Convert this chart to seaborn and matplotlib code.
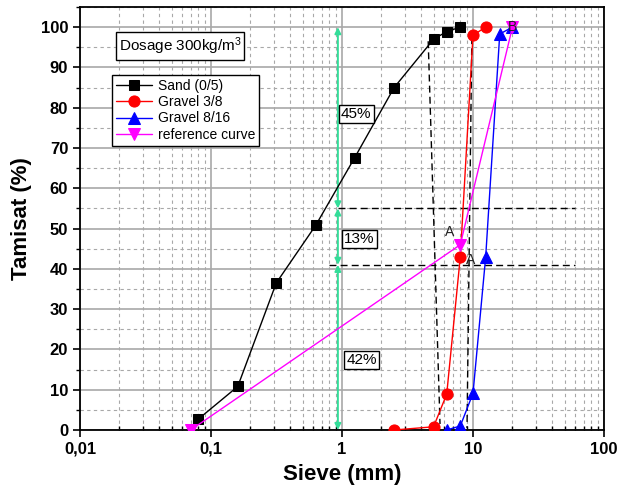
import numpy as np
import pandas as pd
import matplotlib
matplotlib.use("Agg")
import matplotlib.pyplot as plt
from matplotlib.ticker import LogLocator, FixedLocator, MultipleLocator, FuncFormatter
import seaborn as sns

# ---- data ----
sand_x = [0.08, 0.16, 0.315, 0.63, 1.25, 2.5, 5, 6.3, 8]
sand_y = [2.7, 10.8, 36.5, 50.8, 67.6, 85.0, 97.0, 98.9, 100]
gravel38_x = [2.5, 5, 6.3, 8, 10, 12.5]
gravel38_y = [0.0, 0.8, 8.9, 43.0, 98.0, 100]
gravel816_x = [6.3, 8, 10, 12.5, 16, 20]
gravel816_y = [0.0, 1.0, 9.1, 43.0, 98.3, 100]
ref_x = [0.07, 8, 20]
ref_y = [0.0, 46.0, 100]
series_names = ["Sand (0/5)", "Gravel 3/8", "Gravel 8/16", "reference curve"]
x_tick_values = [0.01, 0.1, 1, 10, 100]
x_tick_labels = ["0,01", "0,1", "1", "10", "100"]
y_tick_values = [0, 10, 20, 30, 40, 50, 60, 70, 80, 90, 100]
split_x = 0.93
split_levels = [0, 41, 55, 100]
pct_labels = ["42%", "13%", "45%"]
pct_pos_x = [1.41, 1.35, 1.28]
pct_pos_y = [17.4, 47.4, 78.4]

sns.set_theme(style="ticks")
plt.rcParams["font.family"] = ["Liberation Sans", "DejaVu Sans"]
plt.rcParams["mathtext.default"] = "regular"

fig = plt.figure(figsize=(6.2, 4.93), dpi=100)
ax = fig.add_axes([80/620, 1-430/493, 524/620, 423/493])

green = "#33DD99"

# grid
ax.set_xscale("log")
ax.set_xlim(0.01, 100)
ax.set_ylim(0, 105)
ax.xaxis.set_major_locator(FixedLocator(x_tick_values))
ax.xaxis.set_minor_locator(LogLocator(base=10, subs=np.arange(2, 10)))
ax.set_xticks(x_tick_values)
ax.set_xticklabels(x_tick_labels)
ax.xaxis.set_minor_formatter(FuncFormatter(lambda v, p: ""))
ax.set_yticks(y_tick_values)
ax.yaxis.set_minor_locator(MultipleLocator(5))
ax.grid(which="major", color="#A8A8A8", lw=1.2, ls="-", zorder=0)
ax.grid(which="minor", color="#A8A8A8", lw=0.8, ls=(0, (3, 3)), zorder=0)
ax.set_axisbelow(True)

# dashed construction lines
dash = dict(color="black", lw=1.0, ls=(0, (5, 3)), zorder=2)
ax.plot([split_x, 60], [55, 55], **dash)
ax.plot([0.8, 60], [41, 41], **dash)
ax.plot([4.55, 5.6], [96.5, 1.5], **dash)
ax.plot([9.8, 9.0], [97.5, 0.5], **dash)

# green double arrows
for lo, hi in zip(split_levels[:-1], split_levels[1:]):
    ax.annotate("", xy=(split_x, lo), xytext=(split_x, hi),
                arrowprops=dict(arrowstyle="<|-|>", color=green, lw=1.4,
                                mutation_scale=9, shrinkA=0, shrinkB=0), zorder=3)

# series
sns.lineplot(x=sand_x, y=sand_y, ax=ax, color="black", marker="s", markersize=7,
             markeredgecolor="black", lw=1.0, sort=False, label=series_names[0], zorder=5)
sns.lineplot(x=gravel38_x, y=gravel38_y, ax=ax, color="#FF0000", marker="o", markersize=8,
             markeredgecolor="#FF0000", lw=1.0, sort=False, label=series_names[1], zorder=5)
sns.lineplot(x=gravel816_x, y=gravel816_y, ax=ax, color="#0000FF", marker="^", markersize=8,
             markeredgecolor="#0000FF", lw=1.0, sort=False, label=series_names[2], zorder=5)
sns.lineplot(x=ref_x, y=ref_y, ax=ax, color="#FF00FF", marker="v", markersize=8,
             markeredgecolor="#FF00FF", lw=1.0, sort=False, label=series_names[3], zorder=6)

# text boxes
for t, px, py in zip(pct_labels, pct_pos_x, pct_pos_y):
    ax.text(px, py, t, ha="center", va="center", fontsize=11, zorder=7, color="black",
            bbox=dict(boxstyle="square,pad=0.15", fc="white", ec="black", lw=1.0))
ax.text(0.058, 95.3, "Dosage 300kg/m$^3$", ha="center", va="center", fontsize=11, zorder=7,
        color="black",
        bbox=dict(boxstyle="square,pad=0.2", fc="white", ec="black", lw=1.0))
ax.text(6.6, 49.2, "A", ha="center", va="center", fontsize=10, color="#222222", zorder=7)
ax.text(9.6, 42.2, "A", ha="center", va="center", fontsize=10, color="#222222", zorder=7)
ax.text(20, 100, "B", ha="center", va="center", fontsize=10, color="#222222", zorder=8)

leg = ax.legend(loc="upper left", bbox_to_anchor=(0.061, 0.839), borderaxespad=0,
                fontsize=10, frameon=True, fancybox=False, edgecolor="black",
                handlelength=2.6, handletextpad=0.4, labelspacing=0.15, borderpad=0.3)
leg.get_frame().set_linewidth(1.0)
leg.get_frame().set_alpha(1)
for t in leg.get_texts():
    t.set_color("black")

# ticks / spines
for s in ax.spines.values():
    s.set_color("black")
    s.set_linewidth(1.3)
ax.tick_params(axis="both", which="major", direction="out", length=5, width=1.2,
               labelsize=12, colors="black")
ax.tick_params(axis="x", which="minor", direction="in", length=3, width=1.0, colors="black")
ax.tick_params(axis="y", which="minor", direction="out", length=3, width=1.0, colors="black")
for lab in ax.get_xticklabels() + ax.get_yticklabels():
    lab.set_fontweight("bold")
ax.set_xlabel("Sieve (mm)", fontsize=16, fontweight="bold", labelpad=5, color="black")
ax.set_ylabel("Tamisat (%)", fontsize=16, fontweight="bold", labelpad=6, color="black")

fig.savefig("out.png", dpi=100)
